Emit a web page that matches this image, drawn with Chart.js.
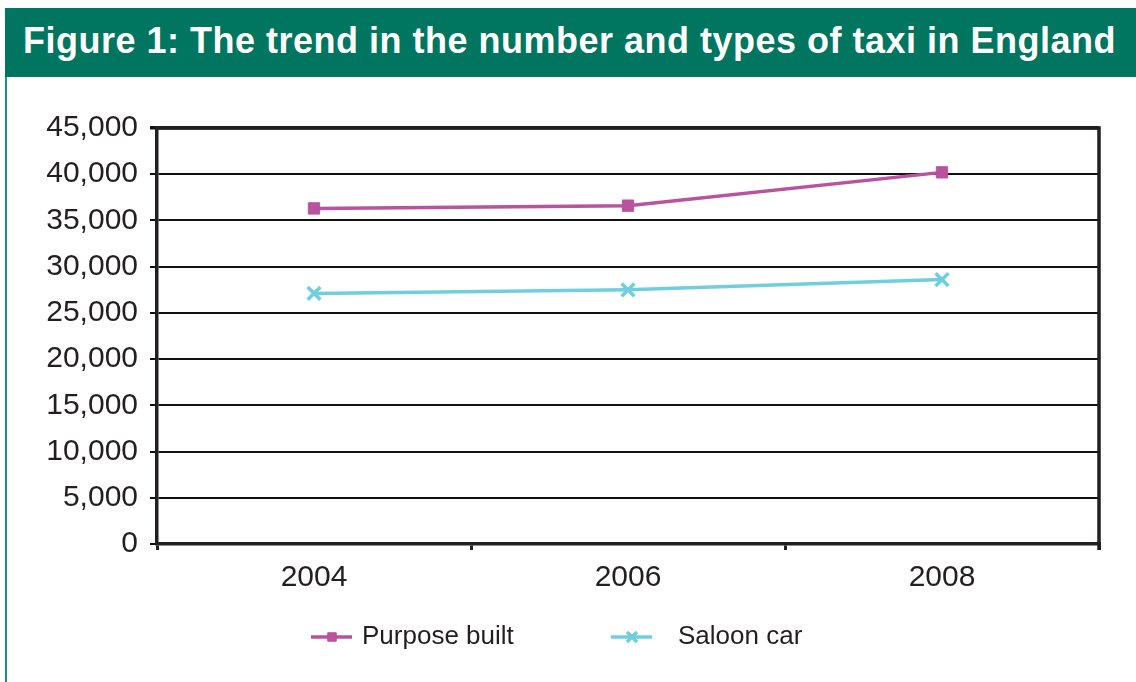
<!DOCTYPE html>
<html>
<head>
<meta charset="utf-8">
<script src="https://cdn.jsdelivr.net/npm/chart.js@4/dist/chart.umd.min.js"></script>
<style>
  html, body { margin: 0; padding: 0; background: #fff; }
  #page { position: relative; width: 1136px; height: 682px; overflow: hidden; }
  #frame { position: absolute; left: 5px; top: 8px; width: 1131px; height: 674px; border-left: 2px solid #22907a; box-sizing: border-box; }
  #banner { position: absolute; left: 5px; top: 8px; width: 1131px; height: 69px; background: #00755f;
    color: #fff; font: bold 36px "Liberation Sans", Arial, sans-serif; letter-spacing: 0.5px; line-height: 66px; padding-left: 18px; box-sizing: border-box; white-space: nowrap; }
  #myChart { position: absolute; left: 0; top: 0; }
</style>
</head>
<body>
<div id="page">
  <canvas id="myChart" width="1136" height="682"></canvas>
  <div id="frame"></div>
  <div id="banner">Figure 1: The trend in the number and types of taxi in England</div>
</div>
<script>
// data
const years = ['2004', '2006', '2008'];
const purposeBuilt = [36300, 36600, 40200];
const saloonCar = [27100, 27500, 28600];
const yTickValues = [0, 5000, 10000, 15000, 20000, 25000, 30000, 35000, 40000, 45000];
const seriesNames = ['Purpose built', 'Saloon car'];

const inkColor = '#231f20';
const pinkColor = '#b9529f';
const cyanColor = '#6fcfdf';

// legend with line + marker like the old excel one
const lineLegend = {
  id: 'lineLegend',
  afterDraw(chart, args, opts) {
    const ctx = chart.ctx;
    chart.data.datasets.forEach(function(ds, i) {
      const x = opts.xs[i];
      const y = opts.y;
      ctx.save();
      ctx.strokeStyle = ds.borderColor;
      ctx.lineWidth = 3.5;
      ctx.beginPath();
      ctx.moveTo(x, y);
      ctx.lineTo(x + 41, y);
      ctx.stroke();
      ctx.fillStyle = ds.pointBackgroundColor;
      ctx.strokeStyle = ds.pointBorderColor;
      ctx.lineWidth = ds.pointBorderWidth;
      Chart.helpers.drawPoint(ctx, { pointStyle: ds.pointStyle, radius: opts.radius[i], borderWidth: ds.pointBorderWidth, rotation: 0 }, x + 21, y);
      ctx.fillStyle = inkColor;
      ctx.font = '26px "Liberation Sans", Arial, sans-serif';
      ctx.textBaseline = 'middle';
      ctx.fillText(ds.label, opts.textXs[i], y);
      ctx.restore();
    });
  }
};

// thick top and right side of the plot box
const plotFrame = {
  id: 'plotFrame',
  beforeDatasetsDraw(chart) {
    const a = chart.chartArea;
    const ctx = chart.ctx;
    ctx.save();
    ctx.strokeStyle = inkColor;
    ctx.lineWidth = 3.5;
    ctx.beginPath();
    ctx.moveTo(a.left, a.top);
    ctx.lineTo(a.right, a.top);
    ctx.lineTo(a.right, a.bottom + 6);
    ctx.stroke();
    ctx.restore();
  }
};

var myChart = document.getElementById('myChart').getContext('2d');

var taxiChart = new Chart(myChart, {
  type: 'line',
  data: {
    labels: years,
    datasets: [{
      label: seriesNames[0],
      data: purposeBuilt,
      borderColor: pinkColor,
      backgroundColor: pinkColor,
      pointBackgroundColor: pinkColor,
      pointBorderColor: pinkColor,
      pointBorderWidth: 1,
      borderWidth: 3.5,
      pointStyle: 'rect',
      pointRadius: 8,
      tension: 0,
      fill: false
    }, {
      label: seriesNames[1],
      data: saloonCar,
      borderColor: cyanColor,
      backgroundColor: cyanColor,
      pointBackgroundColor: cyanColor,
      pointBorderColor: cyanColor,
      pointBorderWidth: 3.5,
      borderWidth: 3.5,
      pointStyle: 'crossRot',
      pointRadius: 9,
      tension: 0,
      fill: false
    }]
  },
  options: {
    responsive: false,
    animation: false,
    layout: { padding: { top: 128, left: 0, right: 37, bottom: 88 } },
    scales: {
      x: {
        offset: true,
        afterFit: function(s) { s.height = 50; },
        grid: { offset: true, drawOnChartArea: false, drawTicks: true, tickLength: 6, lineWidth: 3, color: inkColor },
        border: { display: true, width: 3.5, color: inkColor },
        ticks: { color: inkColor, padding: 10, font: { family: '"Liberation Sans", Arial, sans-serif', size: 30 } }
      },
      y: {
        min: 0,
        max: 45000,
        afterFit: function(s) { s.width = 157; },
        afterBuildTicks: function(s) { s.ticks = yTickValues.map(v => ({ value: v })); },
        grid: {
          color: '#111',
          lineWidth: function(c) { return c.tick && c.tick.value === 45000 ? 3.5 : 2; },
          tickLength: 7
        },
        border: { display: true, width: 3.5, color: inkColor },
        ticks: {
          color: inkColor,
          padding: 12,
          font: { family: '"Liberation Sans", Arial, sans-serif', size: 30 },
          callback: function(v) { return v.toLocaleString('en-GB'); }
        }
      }
    },
    plugins: {
      legend: { display: false },
      tooltip: { enabled: false },
      lineLegend: { y: 637, xs: [311, 611], textXs: [362, 678], radius: [6, 7] }
    }
  },
  plugins: [plotFrame, lineLegend]
});
</script>
</body>
</html>
